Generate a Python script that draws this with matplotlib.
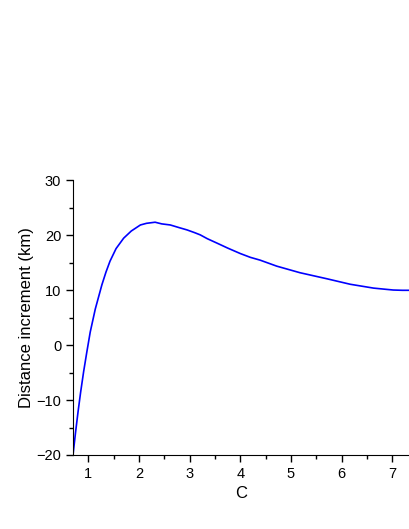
import matplotlib
matplotlib.use("Agg")
import matplotlib.pyplot as plt
from matplotlib.ticker import MultipleLocator

plt.rcParams['font.family'] = ['Liberation Sans', 'DejaVu Sans']

# curve
c_vals = [0.70, 0.75, 0.80, 0.85, 0.91, 0.97, 1.04, 1.14, 1.27, 1.35, 1.43, 1.55,
          1.70, 1.85, 2.03, 2.15, 2.32, 2.45, 2.62, 2.80, 2.95, 3.10, 3.21,
          3.35, 3.54, 3.75, 4.00, 4.20, 4.39, 4.72, 5.18, 5.71, 6.17, 6.63,
          6.85, 7.02, 7.20, 7.35]
dist_inc = [-20.0, -15.9, -12.1, -8.6, -4.8, -1.4, 2.4, 6.6, 11.0, 13.3, 15.3, 17.6,
            19.5, 20.8, 21.9, 22.2, 22.4, 22.1, 21.9, 21.4, 21.0, 20.5, 20.1,
            19.4, 18.6, 17.7, 16.7, 16.0, 15.5, 14.4, 13.2, 12.1, 11.1, 10.4,
            10.2, 10.05, 10.0, 10.0]

fig = plt.figure(figsize=(4.09, 5.29), dpi=100)
ax = fig.add_axes([73 / 409, 1 - 455 / 529, 1 - 73 / 409, (455 - 180.5) / 529])

ax.plot(c_vals, dist_inc, color='#0000ff', linewidth=1.2)

ax.set_xlim(0.70, 7.33)
ax.set_ylim(-20, 30)
ax.xaxis.set_major_locator(MultipleLocator(1))
ax.xaxis.set_minor_locator(MultipleLocator(0.5))
ax.yaxis.set_major_locator(MultipleLocator(10))
ax.yaxis.set_minor_locator(MultipleLocator(5))

ax.spines['top'].set_visible(False)
ax.spines['right'].set_visible(False)
ax.tick_params(which='major', direction='out', length=5, width=1, labelsize=10.5)
ax.tick_params(which='minor', direction='out', length=3, width=1)

ax.set_xlabel('C', fontsize=12)
ax.set_ylabel('Distance increment (km)', fontsize=12, labelpad=2)

fig.savefig('out.png', dpi=100)
